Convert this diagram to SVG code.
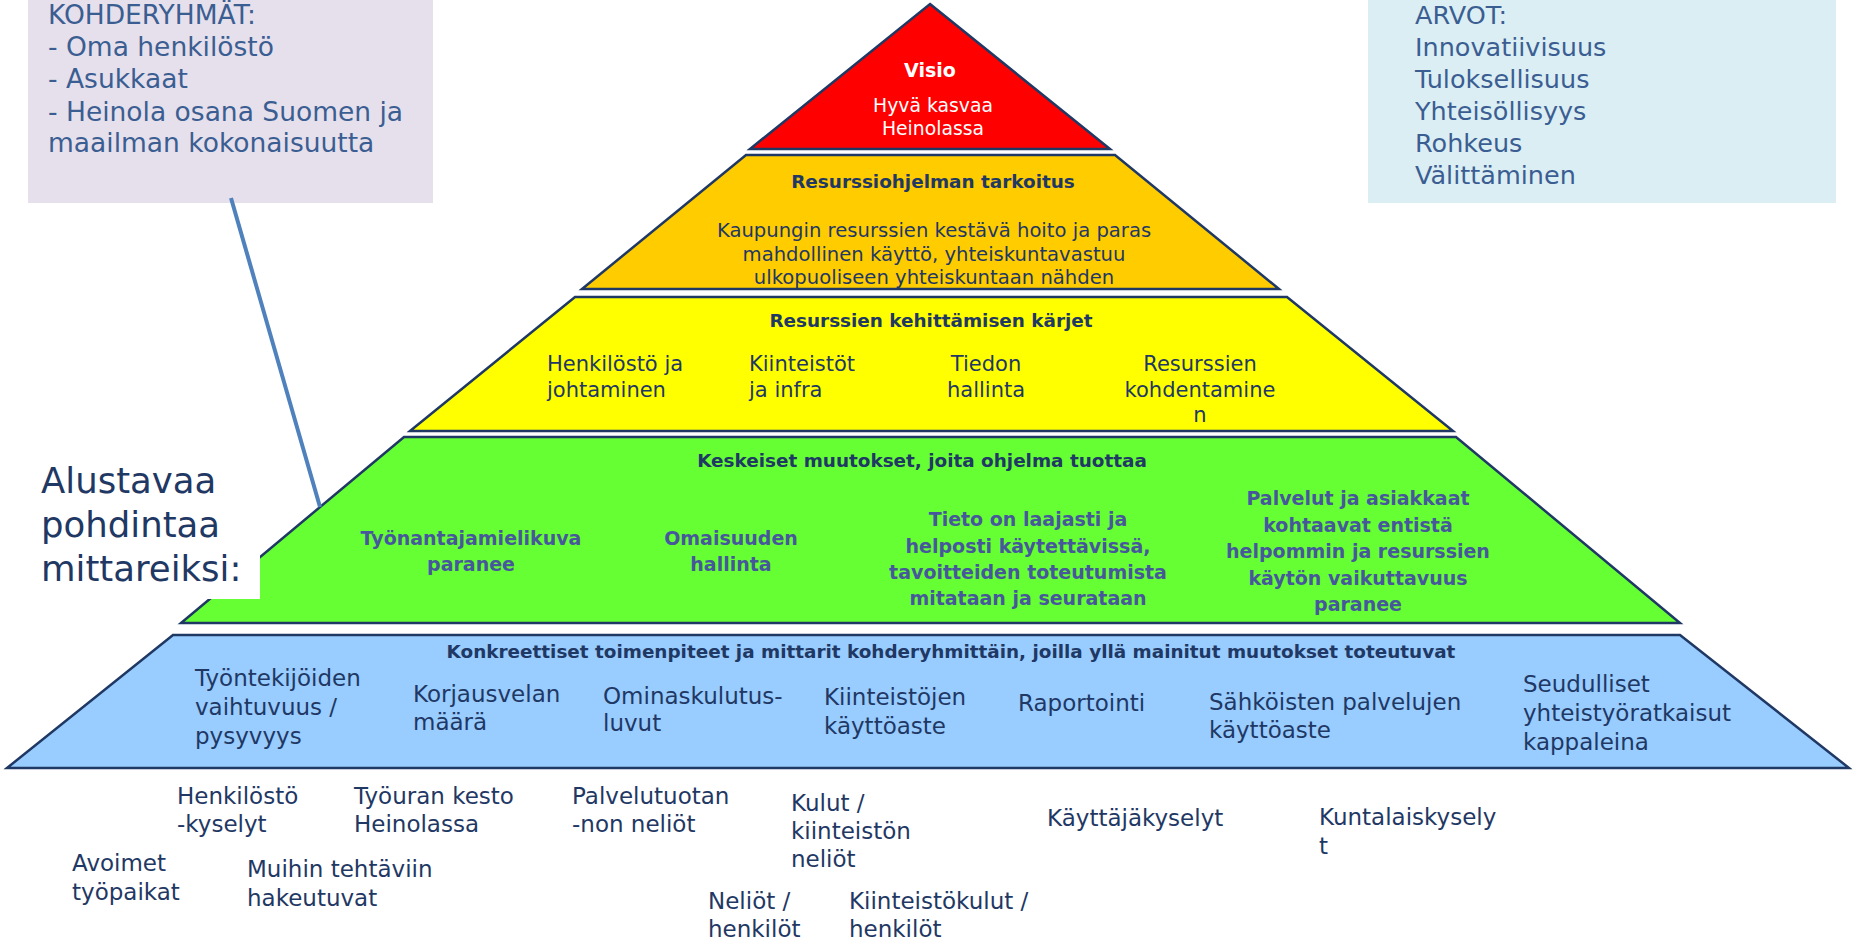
<svg xmlns="http://www.w3.org/2000/svg" width="1856" height="940" viewBox="0 0 1856 940">
<style>
text{font-family:"DejaVu Sans","Liberation Sans",sans-serif;}
.layer{stroke:#1F3864;stroke-width:2.5;stroke-linejoin:miter;}
.box{font-size:25.5px;fill:#3B5E92;}
.lil{font-size:26.5px;}
.ttl{font-size:18.4px;font-weight:bold;fill:#1F3864;text-anchor:middle;}
.body{font-size:19.6px;fill:#1F3864;}
.yi{font-size:21px;fill:#1F3864;}
.wht{fill:#FFFFFF;text-anchor:middle;}
.gi{font-size:19px;font-weight:bold;fill:#46589B;text-anchor:middle;}
.bi{font-size:23px;fill:#1F3864;}
.mid{text-anchor:middle;}
</style>
<rect width="1856" height="940" fill="#FFFFFF"/>
<g id="kohderyhmat">
<rect x="28" y="0" width="405" height="203" fill="#E6E0EC"/>
<text class="box lil" x="48" y="24">KOHDERYHMÄT:</text>
<text class="box lil" x="48" y="56">- Oma henkilöstö</text>
<text class="box lil" x="48" y="88">- Asukkaat</text>
<text class="box lil" x="48" y="121">- Heinola osana Suomen ja</text>
<text class="box lil" x="48" y="152">maailman kokonaisuutta</text>
</g>
<g id="arvot">
<rect x="1368" y="0" width="468" height="203" fill="#DBEEF4"/>
<text class="box" x="1415" y="24">ARVOT:</text>
<text class="box" x="1415" y="56">Innovatiivisuus</text>
<text class="box" x="1415" y="88">Tuloksellisuus</text>
<text class="box" x="1415" y="120">Yhteisöllisyys</text>
<text class="box" x="1415" y="152">Rohkeus</text>
<text class="box" x="1415" y="184">Välittäminen</text>
</g>
<g id="visio">
<polygon class="layer" points="930,4 1110,149 750,149" fill="#FF0000"/>
<text class="wht" x="930" y="77" font-size="19" font-weight="bold">Visio</text>
<text class="wht" x="933" y="112" font-size="18.8">Hyvä kasvaa</text>
<text class="wht" x="933" y="135" font-size="18.8">Heinolassa</text>
</g>
<g id="tarkoitus">
<polygon class="layer" points="746,155 1115,155 1279,289 582,289" fill="#FFCC00"/>
<text class="ttl" x="933" y="188">Resurssiohjelman tarkoitus</text>
<text class="body mid" x="934" y="237">Kaupungin resurssien kestävä hoito ja paras</text>
<text class="body mid" x="934" y="261">mahdollinen käyttö, yhteiskuntavastuu</text>
<text class="body mid" x="934" y="284">ulkopuoliseen yhteiskuntaan nähden</text>
</g>
<g id="karjet">
<polygon class="layer" points="575,297 1287,297 1453,431 410,431" fill="#FFFF00"/>
<text class="ttl" x="931" y="327">Resurssien kehittämisen kärjet</text>
<text class="yi" x="547" y="371">Henkilöstö ja</text>
<text class="yi" x="547" y="397">johtaminen</text>
<text class="yi" x="749" y="371">Kiinteistöt</text>
<text class="yi" x="749" y="397">ja infra</text>
<text class="yi mid" x="986" y="371">Tiedon</text>
<text class="yi mid" x="986" y="397">hallinta</text>
<text class="yi mid" x="1200" y="371">Resurssien</text>
<text class="yi mid" x="1200" y="397">kohdentamine</text>
<text class="yi mid" x="1200" y="422">n</text>
</g>
<g id="muutokset">
<polygon class="layer" points="404,437 1456,437 1680,623 181,623" fill="#66FF33"/>
<text class="ttl" x="922" y="467">Keskeiset muutokset, joita ohjelma tuottaa</text>
<text class="gi" x="471" y="545">Työnantajamielikuva</text>
<text class="gi" x="471" y="571">paranee</text>
<text class="gi" x="731" y="545">Omaisuuden</text>
<text class="gi" x="731" y="571">hallinta</text>
<text class="gi" x="1028" y="526">Tieto on laajasti ja</text>
<text class="gi" x="1028" y="553">helposti käytettävissä,</text>
<text class="gi" x="1028" y="579">tavoitteiden toteutumista</text>
<text class="gi" x="1028" y="605">mitataan ja seurataan</text>
<text class="gi" x="1358" y="505">Palvelut ja asiakkaat</text>
<text class="gi" x="1358" y="532">kohtaavat entistä</text>
<text class="gi" x="1358" y="558">helpommin ja resurssien</text>
<text class="gi" x="1358" y="585">käytön vaikuttavuus</text>
<text class="gi" x="1358" y="611">paranee</text>
</g>
<g id="toimenpiteet">
<polygon class="layer" points="173,635 1680,635 1849,768 7,768" fill="#99CCFF"/>
<text class="ttl" x="951" y="658" font-size="18">Konkreettiset toimenpiteet ja mittarit kohderyhmittäin, joilla yllä mainitut muutokset toteutuvat</text>
<text class="bi" x="195" y="686">Työntekijöiden</text>
<text class="bi" x="195" y="715">vaihtuvuus /</text>
<text class="bi" x="195" y="744">pysyvyys</text>
<text class="bi" x="413" y="702">Korjausvelan</text>
<text class="bi" x="413" y="730">määrä</text>
<text class="bi" x="603" y="704">Ominaskulutus-</text>
<text class="bi" x="603" y="731">luvut</text>
<text class="bi" x="824" y="705">Kiinteistöjen</text>
<text class="bi" x="824" y="734">käyttöaste</text>
<text class="bi" x="1018" y="711">Raportointi</text>
<text class="bi" x="1209" y="710">Sähköisten palvelujen</text>
<text class="bi" x="1209" y="738">käyttöaste</text>
<text class="bi" x="1523" y="692">Seudulliset</text>
<text class="bi" x="1523" y="721">yhteistyöratkaisut</text>
<text class="bi" x="1523" y="750">kappaleina</text>
</g>
<g id="alustavaa">
<rect x="0" y="450" width="260" height="149" fill="#FFFFFF"/>
<text x="41" y="493" font-size="35.5" fill="#1F3864">Alustavaa</text>
<text x="41" y="537" font-size="35.5" fill="#1F3864">pohdintaa</text>
<text x="41" y="581" font-size="35.5" fill="#1F3864">mittareiksi:</text>
</g>
<g id="connectors">
<line x1="231" y1="198" x2="320" y2="507" stroke="#4F81BD" stroke-width="4"/>
</g>
<g id="mittarit">
<text class="bi" x="177" y="804">Henkilöstö</text>
<text class="bi" x="177" y="832">-kyselyt</text>
<text class="bi" x="354" y="804">Työuran kesto</text>
<text class="bi" x="354" y="832">Heinolassa</text>
<text class="bi" x="572" y="804">Palvelutuotan</text>
<text class="bi" x="572" y="832">-non neliöt</text>
<text class="bi" x="791" y="811">Kulut /</text>
<text class="bi" x="791" y="839">kiinteistön</text>
<text class="bi" x="791" y="867">neliöt</text>
<text class="bi" x="1047" y="826">Käyttäjäkyselyt</text>
<text class="bi" x="1319" y="825">Kuntalaiskysely</text>
<text class="bi" x="1319" y="854">t</text>
<text class="bi" x="72" y="871">Avoimet</text>
<text class="bi" x="72" y="900">työpaikat</text>
<text class="bi" x="247" y="877">Muihin tehtäviin</text>
<text class="bi" x="247" y="906">hakeutuvat</text>
<text class="bi" x="708" y="909">Neliöt /</text>
<text class="bi" x="708" y="937">henkilöt</text>
<text class="bi" x="849" y="909">Kiinteistökulut /</text>
<text class="bi" x="849" y="937">henkilöt</text>
</g>
</svg>
